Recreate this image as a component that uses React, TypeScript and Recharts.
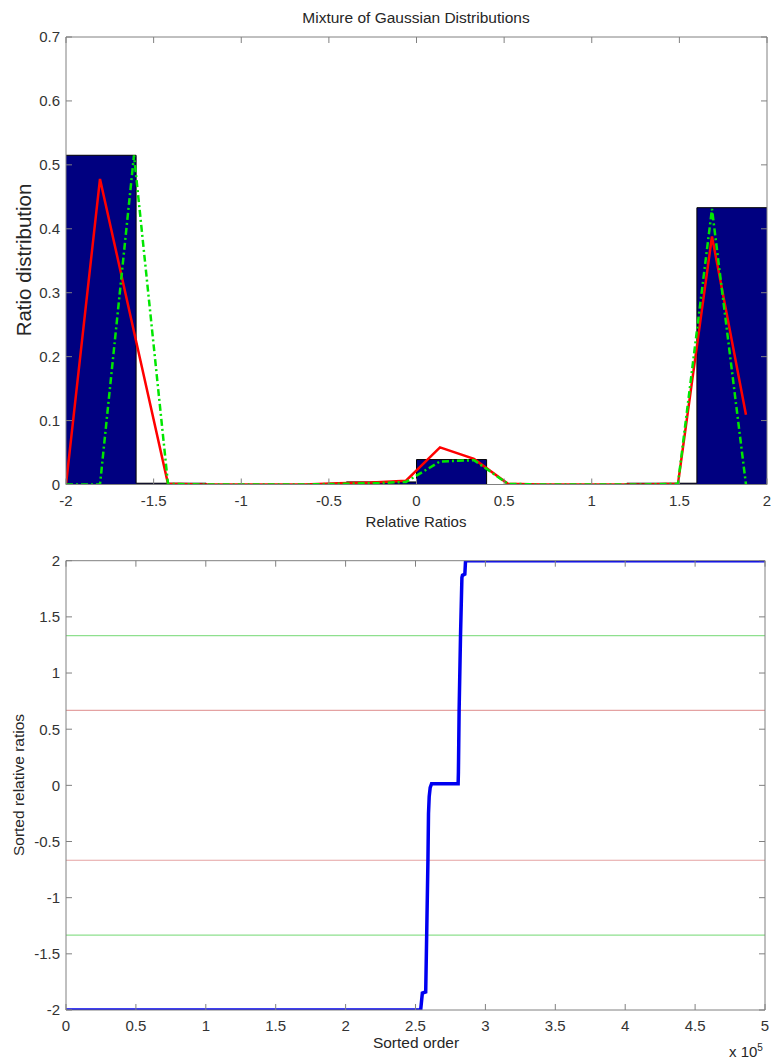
import { Area, ComposedChart, Line, ReferenceLine, XAxis, YAxis } from "recharts";

// histogram of relative ratios (bin edges and normalised heights)
const binEdges = [-2, -1.6, -1.2, -0.8, -0.4, 0, 0.4, 0.8, 1.2, 1.6, 2];
const binHeights = [0.515, 0.002, 0, 0, 0.004, 0.039, 0, 0, 0.002, 0.433];

// fitted curves, evaluated on the same grid
const fitRatios = [
  -2, -1.806, -1.612, -1.418, -1.224, -1.03, -0.836, -0.642, -0.448, -0.254, -0.06, 0.134, 0.328, 0.522, 0.716, 0.91, 1.104,
  1.298, 1.492, 1.686, 1.88,
];
const mixtureFit = [0, 0.478, 0.239, 0.001, 0, 0, 0, 0, 0.002, 0.003, 0.006, 0.058, 0.04, 0.001, 0, 0, 0, 0, 0.001, 0.388, 0.109];
const componentFit = [0, 0, 0.515, 0.001, 0, 0, 0, 0, 0.001, 0.002, 0.004, 0.036, 0.038, 0.001, 0, 0, 0, 0, 0.001, 0.431, 0];

const ratioTicks = [-2, -1.5, -1, -0.5, 0, 0.5, 1, 1.5, 2];
const densityTicks = [0, 0.1, 0.2, 0.3, 0.4, 0.5, 0.6, 0.7];

// sorted relative ratios against their rank
const sortedOrder = [
  0, 253700, 254900, 257300, 258000, 258900, 259300, 259800, 260500, 261500, 280500, 280700, 281200, 282200, 283200, 283600,
  285300, 285800, 500000,
];
const sortedRatios = [-2, -2, -1.85, -1.84, -1.333, -0.667, -0.25, -0.1, -0.02, 0.015, 0.015, 0.12, 0.667, 1.333, 1.85, 1.87, 1.88, 2, 2];
const orderTicks = [0, 50000, 100000, 150000, 200000, 250000, 300000, 350000, 400000, 450000, 500000];
const sortedTicks = [-2, -1.5, -1, -0.5, 0, 0.5, 1, 1.5, 2];
const thresholdLevels = [1.333, 0.667, -0.667, -1.333];
const thresholdColors = ["#8ee08e", "#e4a2a2", "#e4a2a2", "#8ee08e"];

const histData = binEdges.map((x, i) => ({ x, h: binHeights[Math.min(i, binHeights.length - 1)] }));
const mixtureData = fitRatios.map((x, i) => ({ x, y: mixtureFit[i] }));
const componentData = fitRatios.map((x, i) => ({ x, y: componentFit[i] }));
const sortedData = sortedOrder.map((x, i) => ({ x, y: sortedRatios[i] }));

const font = "'Liberation Sans', Arial, sans-serif";
const axisColor = "#808080";
const tickStyle = { fill: "#333333", fontSize: 15, fontFamily: font };
const blank = () => "";

function TextAt({ x, y, size, rotate, children }: { x: number; y: number; size: number; rotate?: boolean; children: any }) {
  return (
    <div
      style={{
        position: "absolute",
        left: x,
        top: y,
        fontSize: size,
        whiteSpace: "nowrap",
        lineHeight: 1,
        transform: `translate(-50%, -50%)${rotate ? " rotate(-90deg)" : ""}`,
      }}
    >
      {children}
    </div>
  );
}

// the box round each plot: mirror axes on top and right, carrying tick marks only
function BoxAxes({ xDomain, xTicks, yDomain, yTicks }: { xDomain: number[]; xTicks: number[]; yDomain: number[]; yTicks: number[] }) {
  return [
    <XAxis
      key="top"
      xAxisId="top"
      orientation="top"
      dataKey="x"
      type="number"
      domain={xDomain}
      ticks={xTicks}
      allowDataOverflow
      height={1}
      tickSize={-6}
      tickFormatter={blank}
      axisLine={{ stroke: axisColor }}
      tickLine={{ stroke: axisColor }}
      interval={0}
    />,
    <YAxis
      key="right"
      yAxisId="right"
      orientation="right"
      type="number"
      domain={yDomain}
      ticks={yTicks}
      allowDataOverflow
      width={1}
      tickSize={-6}
      tickFormatter={blank}
      axisLine={{ stroke: axisColor }}
      tickLine={{ stroke: axisColor }}
      interval={0}
    />,
  ];
}

export default function App() {
  return (
    <div
      style={{
        position: "absolute",
        left: 0,
        top: 0,
        width: 772,
        height: 1060,
        background: "#ffffff",
        fontFamily: font,
        color: "#262626",
        overflow: "hidden",
      }}
    >
      <div style={{ position: "absolute", left: 0, top: 0 }}>
        <ComposedChart width={772} height={530} margin={{ top: 36, right: 4, bottom: 15.5, left: 0 }}>
          <XAxis
            dataKey="x"
            type="number"
            domain={[-2, 2]}
            ticks={ratioTicks}
            allowDataOverflow
            height={30}
            tickSize={-6}
            tickMargin={17}
            tick={tickStyle}
            axisLine={{ stroke: axisColor }}
            tickLine={{ stroke: axisColor }}
            interval={0}
          />
          <YAxis
            type="number"
            domain={[0, 0.7]}
            ticks={densityTicks}
            allowDataOverflow
            width={66}
            tickSize={-6}
            tickMargin={12}
            tick={tickStyle}
            axisLine={{ stroke: axisColor }}
            tickLine={{ stroke: axisColor }}
            interval={0}
          />
          {BoxAxes({ xDomain: [-2, 2], xTicks: ratioTicks, yDomain: [0, 0.7], yTicks: densityTicks })}
          <Area
            data={histData}
            dataKey="h"
            type="stepAfter"
            fill="#000080"
            fillOpacity={1}
            stroke="#000000"
            strokeWidth={1}
            dot={false}
            activeDot={false}
            isAnimationActive={false}
          />
          <Line
            data={mixtureData}
            dataKey="y"
            type="linear"
            stroke="#ff0000"
            strokeWidth={2.5}
            dot={false}
            activeDot={false}
            isAnimationActive={false}
          />
          <Line
            data={componentData}
            dataKey="y"
            type="linear"
            stroke="#00e600"
            strokeWidth={2.5}
            strokeDasharray="7 3 2 3"
            dot={false}
            activeDot={false}
            isAnimationActive={false}
          />
          {/* invisible copy tied to the mirror axes so that they are drawn */}
          <Line
            data={histData}
            dataKey="h"
            xAxisId="top"
            yAxisId="right"
            stroke="none"
            dot={false}
            activeDot={false}
            isAnimationActive={false}
          />
        </ComposedChart>
      </div>

      <div style={{ position: "absolute", left: 0, top: 530 }}>
        <ComposedChart width={772} height={530} margin={{ top: 29.7, right: 6, bottom: 20, left: 0 }}>
          <XAxis
            dataKey="x"
            type="number"
            domain={[0, 500000]}
            ticks={orderTicks}
            allowDataOverflow
            height={30}
            tickSize={-6}
            tickMargin={16}
            tick={tickStyle}
            tickFormatter={(v: number) => String(v / 100000)}
            axisLine={{ stroke: axisColor }}
            tickLine={{ stroke: axisColor }}
            interval={0}
          />
          <YAxis
            type="number"
            domain={[-2, 2]}
            ticks={sortedTicks}
            allowDataOverflow
            width={66}
            tickSize={-6}
            tickMargin={12}
            tick={tickStyle}
            axisLine={{ stroke: axisColor }}
            tickLine={{ stroke: axisColor }}
            interval={0}
          />
          {BoxAxes({ xDomain: [0, 500000], xTicks: orderTicks, yDomain: [-2, 2], yTicks: sortedTicks })}
          {thresholdLevels.map((level, i) => (
            <ReferenceLine key={level} y={level} stroke={thresholdColors[i]} strokeWidth={1.2} />
          ))}
          <Line
            data={sortedData}
            dataKey="y"
            type="linear"
            stroke="#0000f0"
            strokeWidth={3.5}
            dot={false}
            activeDot={false}
            isAnimationActive={false}
          />
          <Line
            data={sortedData}
            dataKey="y"
            xAxisId="top"
            yAxisId="right"
            stroke="none"
            dot={false}
            activeDot={false}
            isAnimationActive={false}
          />
        </ComposedChart>
      </div>

      <TextAt x={416} y={18} size={15.5}>
        Mixture of Gaussian Distributions
      </TextAt>
      <TextAt x={24} y={260} size={20.5} rotate>
        Ratio distribution
      </TextAt>
      <TextAt x={416} y={521} size={15}>
        Relative Ratios
      </TextAt>
      <TextAt x={19} y={785} size={15.5} rotate>
        Sorted relative ratios
      </TextAt>
      <TextAt x={416} y={1043} size={15.5}>
        Sorted order
      </TextAt>
      <div style={{ position: "absolute", left: 729, top: 1043, fontSize: 15, lineHeight: 1, whiteSpace: "nowrap" }}>
        x 10<sup style={{ fontSize: 10, verticalAlign: "6px" }}>5</sup>
      </div>
    </div>
  );
}
